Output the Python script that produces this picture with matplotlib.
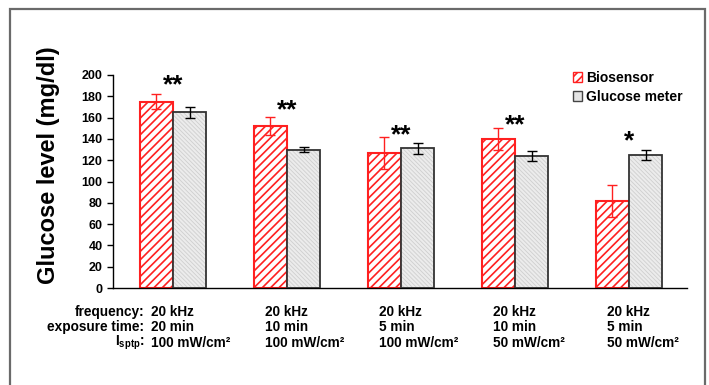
import numpy as np
import matplotlib
matplotlib.use("Agg")
import matplotlib.pyplot as plt
from matplotlib.patches import Patch, Rectangle
from matplotlib.transforms import blended_transform_factory

plt.rcParams['font.family'] = ['Liberation Sans', 'DejaVu Sans']
plt.rcParams['font.weight'] = 'bold'
plt.rcParams['mathtext.fontset'] = 'custom'
plt.rcParams['mathtext.rm'] = 'Liberation Sans:bold'
plt.rcParams['mathtext.default'] = 'rm'
plt.rcParams['hatch.linewidth'] = 1.2

# data
biosensor = [175, 152, 127, 140, 82]
biosensor_err = [7, 8.5, 15, 10.5, 15]
meter = [165, 130, 131, 124, 125]
meter_err = [5, 2.5, 5, 4.5, 4.5]
stars = ['**', '**', '**', '**', '*']
star_y = [190, 167, 143, 153, 138]

row_labels = ['frequency:', 'exposure time:', 'I$_{sptp}$:']
frequency = ['20 kHz', '20 kHz', '20 kHz', '20 kHz', '20 kHz']
exposure = ['20 min', '10 min', '5 min', '10 min', '5 min']
intensity = ['100 mW/cm²', '100 mW/cm²', '100 mW/cm²',
             '50 mW/cm²', '50 mW/cm²']

red = '#ff2020'
x = np.arange(len(biosensor))
w = 0.29

fig = plt.figure(figsize=(7.09, 3.85), dpi=100)
ax = fig.add_axes([0.1594, 0.2519, 0.8096, 0.5533])

ax.bar(x - w/2, biosensor, w, facecolor='white', edgecolor=red,
       hatch='////', linewidth=1.5, zorder=2)
gray = ax.bar(x + w/2, meter, w, facecolor='#ececec', edgecolor='#cfcfcf',
              hatch='\\\\\\\\\\\\\\\\', linewidth=0, zorder=2)
for p in gray:
    if hasattr(p, 'set_hatch_linewidth'):
        p.set_hatch_linewidth(0.6)
ax.bar(x + w/2, meter, w, fill=False, edgecolor='#333333',
       linewidth=1.3, zorder=3)
ax.errorbar(x - w/2, biosensor, yerr=biosensor_err, fmt='none', ecolor=red,
            elinewidth=1, capsize=3.5, capthick=1, zorder=4)
ax.errorbar(x + w/2, meter, yerr=meter_err, fmt='none', ecolor='black',
            elinewidth=1, capsize=3.5, capthick=1, zorder=4)

for xi, s, sy in zip(x, stars, star_y):
    ax.text(xi, sy, s, ha='center', va='center', fontsize=19,
            fontweight='bold')

ax.set_xlim(-0.526, 4.509)
ax.set_ylim(0, 200)
ax.set_yticks(np.arange(0, 201, 20))
ax.set_xticks([])
for side in ['top', 'right']:
    ax.spines[side].set_visible(False)
ax.spines['left'].set_linewidth(1)
ax.spines['bottom'].set_linewidth(1)
ax.tick_params(axis='y', direction='out', length=4, width=1, labelsize=9)
for lab in ax.get_yticklabels():
    lab.set_fontweight('bold')

fig.text(49/709, 0.570, 'Glucose level (mg/dl)', rotation=90, ha='center',
         va='center', fontsize=17, fontweight='bold')

handles = [Patch(facecolor='white', edgecolor=red, hatch='////', linewidth=1),
           Patch(facecolor='#e4e4e4', edgecolor='#444444', linewidth=1)]
fig.legend(handles, ['Biosensor', 'Glucose meter'], loc='upper left',
           bbox_to_anchor=(566/709, 1 - 64/385), frameon=False, fontsize=10,
           handlelength=0.65, handleheight=0.65, handletextpad=0.3,
           labelspacing=0.35, borderpad=0)

tr = blended_transform_factory(ax.transData, fig.transFigure)
rows_y = [1 - 312/385, 1 - 327/385, 1 - 343/385]
for lab, ry in zip(row_labels, rows_y):
    ax.text(-0.25, ry, lab, transform=tr, ha='right', va='center',
            fontsize=9.8, fontweight='bold', clip_on=False)
for row, ry in zip([frequency, exposure, intensity], rows_y):
    for xi, t in zip(x, row):
        ax.text(xi - 0.193, ry, t, transform=tr, ha='left', va='center',
                fontsize=9.8, fontweight='bold', clip_on=False)

frame = Rectangle((10/709, -0.1), 695/709, 1.1 - 9/385, fill=False,
                  edgecolor='#6a6a6a', linewidth=1.6,
                  transform=fig.transFigure, figure=fig)
fig.patches.append(frame)

fig.savefig('out.png', dpi=100)
